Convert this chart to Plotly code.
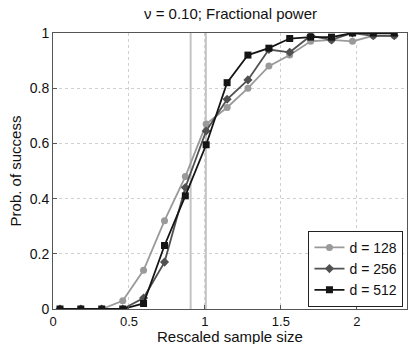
import plotly.graph_objects as go

x_vals = [0.046, 0.183, 0.321, 0.459, 0.596, 0.734, 0.871, 1.008, 1.146, 1.283,
          1.421, 1.558, 1.696, 1.833, 1.971, 2.108, 2.246]
p_128 = [0, 0, 0, 0.03, 0.14, 0.32, 0.48, 0.67, 0.73, 0.80, 0.88, 0.92, 0.97, 0.975, 0.97, 0.99, 0.99]
p_256 = [0, 0, 0, 0, 0.04, 0.17, 0.44, 0.645, 0.76, 0.83, 0.94, 0.93, 0.99, 0.975, 1.0, 0.99, 0.99]
p_512 = [0, 0, 0, 0, 0.02, 0.23, 0.41, 0.595, 0.82, 0.92, 0.945, 0.98, 0.985, 0.985, 1.0, 1.0, 1.0]
ref_lines = [0.906, 1.006]

series = [
    ("d = 128", p_128, "#9a9a9a", "circle"),
    ("d = 256", p_256, "#505050", "diamond"),
    ("d = 512", p_512, "#151515", "square"),
]

fig = go.Figure()
for xv in ref_lines:
    fig.add_shape(type="line", x0=xv, x1=xv, y0=0, y1=1, xref="x", yref="y",
                  line=dict(color="#c4c4c4", width=2), layer="below")

for name, ys, col, sym in series:
    fig.add_trace(go.Scatter(
        x=x_vals, y=ys, name=name, mode="lines+markers",
        line=dict(color=col, width=1.8),
        marker=dict(symbol=sym, size=7, color=col, line=dict(width=0)),
    ))

FAM = "Liberation Sans, Arial, sans-serif"
fig.update_layout(
    width=408, height=344,
    margin=dict(l=53, r=1, t=33, b=35),
    paper_bgcolor="white", plot_bgcolor="white",
    font=dict(family=FAM, size=15, color="#111"),
    title=dict(text="ν = 0.10; Fractional power", x=0.565, xanchor="center",
               y=1 - 14 / 344, yanchor="middle", font=dict(size=15)),
    legend=dict(x=0.99, y=0.008, xanchor="right", yanchor="bottom",
                bordercolor="#222", borderwidth=1, bgcolor="white",
                font=dict(size=14), tracegroupgap=0, itemwidth=30),
    showlegend=True,
    annotations=[dict(text="Rescaled sample size", xref="paper", yref="paper",
                      x=0.5, y=-27 / 276, xanchor="center", yanchor="middle",
                      showarrow=False, font=dict(size=15))],
)
fig.update_xaxes(range=[0, 2.33], tickvals=[0, 0.5, 1, 1.5, 2],
                 ticktext=["0", "0.5", "1", "1.5", "2"],
                 tickfont=dict(size=13),
                 showgrid=True, gridcolor="#d0d0d0", griddash="dot", gridwidth=1,
                 showline=True, linecolor="#555", linewidth=1, mirror=True,
                 ticks="inside", ticklen=4, tickcolor="#555", zeroline=False,
                 automargin=False)
fig.update_yaxes(range=[0, 1], tickvals=[0, 0.2, 0.4, 0.6, 0.8, 1],
                 ticktext=["0", "0.2", "0.4", "0.6", "0.8", "1"],
                 tickfont=dict(size=14),
                 showgrid=True, gridcolor="#d0d0d0", griddash="dot", gridwidth=1,
                 showline=True, linecolor="#555", linewidth=1, mirror=True,
                 ticks="inside", ticklen=4, tickcolor="#555", zeroline=False,
                 automargin=False,
                 title=dict(text="Prob. of success", standoff=4, font=dict(size=15)))

fig.write_html("out.html", config={"displayModeBar": False},
               post_script="document.body.style.margin='0';")
